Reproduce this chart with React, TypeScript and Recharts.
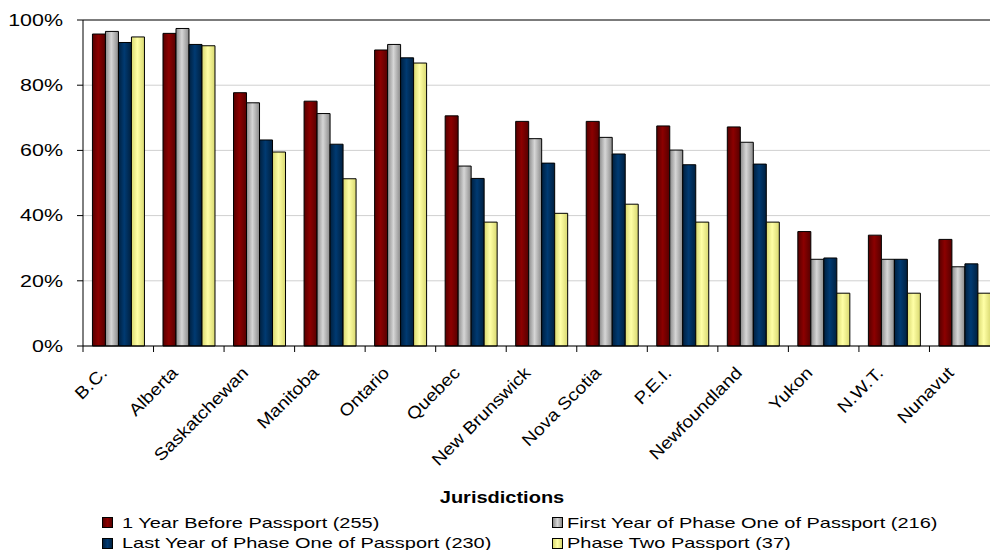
import { Bar, BarChart, CartesianGrid, Legend, ReferenceLine, XAxis, YAxis } from 'recharts';

const jurisdictions = ['B.C.', 'Alberta', 'Saskatchewan', 'Manitoba', 'Ontario', 'Quebec', 'New Brunswick', 'Nova Scotia', 'P.E.I.', 'Newfoundland', 'Yukon', 'N.W.T.', 'Nunavut'];
const yearBefore = [95.7, 95.9, 77.7, 75.1, 90.8, 70.6, 68.9, 68.9, 67.5, 67.2, 35.1, 34.0, 32.7];
const firstYearPhaseOne = [96.5, 97.4, 74.6, 71.3, 92.5, 55.2, 63.6, 64.0, 60.1, 62.5, 26.6, 26.6, 24.3];
const lastYearPhaseOne = [93.1, 92.5, 63.2, 61.9, 88.4, 51.4, 56.1, 58.9, 55.6, 55.8, 27.0, 26.6, 25.2];
const phaseTwo = [94.8, 92.1, 59.5, 51.3, 86.8, 38.0, 40.7, 43.5, 38.0, 38.0, 16.2, 16.2, 16.2];
const percentTicks = [0, 20, 40, 60, 80, 100];

const FONT = '"Liberation Sans", Arial, sans-serif';
const CHART_W = 1012;
const CHART_H = 550;
const MARGIN = { top: 20, right: 12, bottom: 54, left: 13 };
const Y_AXIS_W = 70;
const BAND = (CHART_W - MARGIN.left - Y_AXIS_W - MARGIN.right) / jurisdictions.length;

const series = [
  { key: 'yearBefore', name: '1 Year Before Passport (255)', edge: '#560000', mid: '#8c0000' },
  { key: 'firstYear', name: 'First Year of Phase One of Passport (216)', edge: '#8a8a8a', mid: '#d6d6d6' },
  { key: 'lastYear', name: 'Last Year of Phase One of Passport (230)', edge: '#00203f', mid: '#003a72' },
  { key: 'phaseTwo', name: 'Phase Two Passport (37)', edge: '#d8d870', mid: '#ffffa6' },
];

const rows = jurisdictions.map((name, i) => ({
  name,
  yearBefore: yearBefore[i],
  firstYear: firstYearPhaseOne[i],
  lastYear: lastYearPhaseOne[i],
  phaseTwo: phaseTwo[i],
}));

function PercentTick({ x, y, payload }: any) {
  return (
    <g transform={`translate(${x},${y}) scale(1.34,1)`}>
      <text textAnchor="end" dy="0.36em" fontSize={16} fill="#000" fontFamily={FONT}>
        {payload.value}%
      </text>
    </g>
  );
}

function JurisdictionTick({ x, y, payload }: any) {
  const edge = x - BAND / 2;
  return (
    <g>
      <line x1={edge} x2={edge} y1={y} y2={y + 6} stroke="#000" />
      <g transform={`translate(${x - 10},${y + 28}) rotate(-45) scale(1.13,1)`}>
        <text textAnchor="end" fontSize={17} fill="#000" fontFamily={FONT}>
          {payload.value}
        </text>
      </g>
    </g>
  );
}

function LegendBlock() {
  return (
    <div style={{ position: 'relative', width: 990, height: 65, fontFamily: FONT, color: '#000' }}>
      <div
        style={{
          position: 'absolute', left: 502, top: 5, fontSize: 16, lineHeight: '16px', fontWeight: 'bold',
          whiteSpace: 'nowrap', transform: 'translateX(-50%) scaleX(1.25)',
        }}
      >
        Jurisdictions
      </div>
      {series.map((s, i) => {
        const col = i % 2;
        const center = i < 2 ? 37.8 : 58.3;
        return (
          <div key={s.key}>
            <div
              style={{
                position: 'absolute', left: col ? 552 : 102, top: center - 5.5, width: 9, height: 9,
                border: '1px solid #000', background: `linear-gradient(to right, ${s.edge}, ${s.mid}, ${s.edge})`,
              }}
            />
            <div
              style={{
                position: 'absolute', left: col ? 567 : 122, top: center - 8, fontSize: 15, lineHeight: '16px',
                whiteSpace: 'nowrap', transform: 'scaleX(1.33)', transformOrigin: 'left center',
              }}
            >
              {s.name}
            </div>
          </div>
        );
      })}
    </div>
  );
}

export default function App() {
  return (
    <div style={{ position: 'fixed', left: 0, top: 0, width: 990, height: 550, overflow: 'hidden', background: '#fff' }}>
      <BarChart width={CHART_W} height={CHART_H} data={rows} margin={MARGIN} barCategoryGap="13.4%" barGap={0}>
        <defs>
          {series.map(s => (
            <linearGradient key={s.key} id={`grad-${s.key}`} x1="0" y1="0" x2="1" y2="0">
              <stop offset="0%" stopColor={s.edge} />
              <stop offset="45%" stopColor={s.mid} />
              <stop offset="100%" stopColor={s.edge} />
            </linearGradient>
          ))}
        </defs>
        <CartesianGrid vertical={false} stroke="#d0d0d0" />
        <XAxis
          dataKey="name"
          interval={0}
          height={150}
          axisLine={{ stroke: '#000' }}
          tickLine={false}
          tickSize={0}
          tickMargin={0}
          tick={<JurisdictionTick />}
        />
        <YAxis
          width={Y_AXIS_W}
          domain={[0, 100]}
          ticks={percentTicks}
          axisLine={{ stroke: '#000' }}
          tickLine={{ stroke: '#000' }}
          tickSize={6}
          tickMargin={14}
          tick={<PercentTick />}
        />
        <ReferenceLine y={100} stroke="#111" />
        {series.map(s => (
          <Bar
            key={s.key}
            dataKey={s.key}
            name={s.name}
            fill={`url(#grad-${s.key})`}
            stroke="#000"
            strokeWidth={1}
            isAnimationActive={false}
          />
        ))}
        <Legend
          layout="horizontal"
          verticalAlign="middle"
          align="center"
          content={() => <LegendBlock />}
          wrapperStyle={{ left: 0, top: 485, width: 990, height: 65 }}
        />
      </BarChart>
    </div>
  );
}
